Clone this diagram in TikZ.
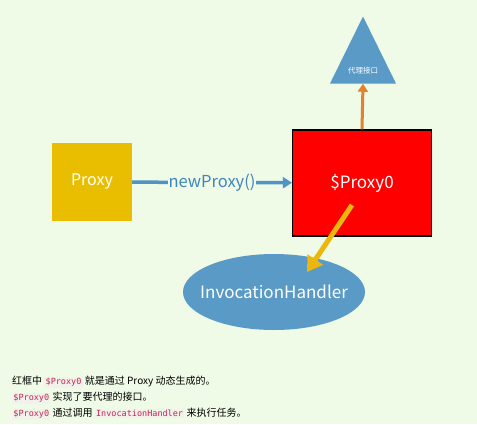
\documentclass[tikz,border=0pt]{standalone}
\usepackage{fontspec}
\setmainfont{Noto Sans CJK SC}
\newfontfamily\codefont{DejaVu Sans Mono}
\usetikzlibrary{arrows.meta,shapes.geometric}

\definecolor{bggreen}{HTML}{EFFAE7}
\definecolor{proxygold}{HTML}{E9BE00}
\definecolor{arrowblue}{HTML}{4F94C4}
\definecolor{labelblue}{HTML}{3F86BA}
\definecolor{shapeblue}{HTML}{5A9AC6}
\definecolor{ifaceorange}{HTML}{E2822E}
\definecolor{callgold}{HTML}{EBB70E}
\definecolor{codebg}{HTML}{F2F1EC}
\definecolor{codered}{HTML}{C7254E}

\newcommand{\codeword}[1]{{\setlength{\fboxsep}{1.2pt}\colorbox{codebg}{\codefont\fontsize{8.5}{10}\selectfont\color{codered}#1}}}

\tikzset{
  box/.style={rectangle, inner sep=0pt, text=white, font=\fontsize{17}{19}\selectfont},
  flow/.style={draw=arrowblue, line width=3.5pt, -{Triangle[length=9pt,width=11pt]}},
  upflow/.style={draw=ifaceorange, line width=3pt, -{Triangle[length=8pt,width=10pt]}},
  callflow/.style={draw=callgold, line width=5pt, -{Triangle[length=15pt,width=18pt]}},
}

\begin{document}
\begin{tikzpicture}[x=1pt, y=-1pt]
  % page and background
  \fill[bggreen] (0,0) rectangle (477,424);
  \useasboundingbox (0,0) rectangle (477,424);

  % the three parts
  \node[box, fill=proxygold, minimum width=80pt, minimum height=78pt, font=\fontsize{16}{18}\selectfont] (proxy) at (92,182) {Proxy};
  \node[box, fill=red, draw=black, line width=1.2pt, minimum width=139pt, minimum height=106pt] (proxyzero) at (362,183) {\$Proxy0};
  \node[isosceles triangle, shape border rotate=90, isosceles triangle stretches, fill=shapeblue,
        minimum width=66pt, minimum height=67pt, inner sep=0pt, text=white,
        font=\fontsize{7.5}{9}\selectfont] (iface) at (363,71) {代理接口};
  \node[ellipse, fill=shapeblue, minimum width=182pt, minimum height=76pt, inner sep=0pt,
        text=white, font=\fontsize{17}{19}\selectfont] (handler) at (274,292) {\makebox[100pt]{InvocationHandler}};

  % connectors
  \draw[flow] (proxy) -- node[fill=bggreen, inner sep=1pt, text=labelblue, font=\fontsize{16.5}{18}\selectfont] {newProxy()} (proxyzero);
  \draw[upflow] (proxyzero.north) -- (iface.south);
  \draw[callflow] ([xshift=-10pt,yshift=-22pt]proxyzero.center) -- ([xshift=33pt,yshift=20pt]handler.center);

  % notes
  \node[anchor=north west, inner sep=0pt, align=left, font=\fontsize{10}{16}\selectfont] (notes) at (12,376)
    {红框中 \codeword{\$Proxy0} 就是通过 Proxy 动态生成的。\\
     \codeword{\$Proxy0} 实现了要代理的接口。\\
     \codeword{\$Proxy0} 通过调用 \codeword{InvocationHandler} 来执行任务。};
\end{tikzpicture}
\end{document}
